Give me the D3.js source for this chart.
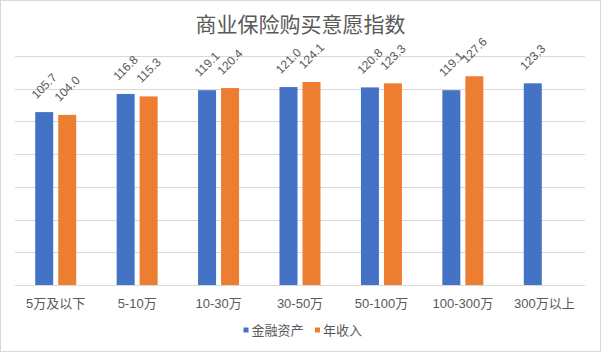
<!DOCTYPE html>
<html><head><meta charset="utf-8">
<script src="https://cdn.jsdelivr.net/npm/d3@7"></script>
<style>html,body{margin:0;padding:0;background:#fff}</style>
</head><body>
<svg id="c" width="601" height="352"></svg>
<script>
const categories = ["5万及以下","5-10万","10-30万","30-50万","50-100万","100-300万","300万以上"];
const seriesNames = ["金融资产","年收入"];
const assets = [105.7,116.8,119.1,121.0,120.8,119.1,123.3];
const income = [104.0,115.3,120.4,124.1,123.3,127.6,null];
const yTicks = [0,20,40,60,80,100,120,140];
const colors = ["#4472C4","#ED7D31"];

const svg = d3.select("#c");
const W = 601, H = 352;
const font = "'Liberation Sans','Noto Sans CJK SC',sans-serif";
svg.append("rect").attr("x",0.5).attr("y",0.5).attr("width",W-1).attr("height",H-1)
  .attr("fill","#fff").attr("stroke","#d9d9d9");

const x = d3.scaleBand().domain(categories).range([15,585]);
const y = d3.scaleLinear().domain([0,140]).range([285,56]);

svg.append("g").selectAll("line").data(yTicks).join("line")
  .attr("x1",15).attr("x2",585).attr("y1",d=>Math.round(y(d))+0.5).attr("y2",d=>Math.round(y(d))+0.5)
  .attr("stroke","#d9d9d9").attr("stroke-width",1);

const series = [assets, income];
const barW = 18, offs = [-20.5, 2.5];
series.forEach((vals,si)=>{
  const data = categories.map((c,i)=>({c,v:vals[i]})).filter(d=>d.v!=null);
  svg.append("g").selectAll("rect").data(data).join("rect")
    .attr("x",d=>x(d.c)+x.bandwidth()/2+offs[si])
    .attr("width",barW)
    .attr("y",d=>y(d.v)).attr("height",d=>y(0)-y(d.v))
    .attr("fill",colors[si]);
  svg.append("g").selectAll("text").data(data).join("text")
    .attr("transform",d=>`translate(${x(d.c)+x.bandwidth()/2+offs[si]+barW/2},${y(d.v)-26}) rotate(-45)`)
    .attr("text-anchor","middle").attr("dominant-baseline","central")
    .attr("font-family",font).attr("font-size",12).attr("fill","#595959")
    .text(d=>d.v.toFixed(1));
});

// x axis labels
const xAxis = d3.axisBottom(x).tickSize(0).tickPadding(0);
const gx = svg.append("g").attr("transform","translate(0,285)").call(xAxis);
gx.select(".domain").remove();
gx.selectAll("text").attr("dy",null).attr("y",22.5)
  .attr("font-family",font).attr("font-size",13).attr("fill","#595959");

// title
svg.append("text").attr("x",300.5).attr("y",31.5).attr("text-anchor","middle")
  .attr("font-family","'Noto Sans CJK SC',sans-serif").attr("font-size",21).attr("fill","#595959")
  .text("商业保险购买意愿指数");

// legend
const lg = svg.append("g");
const legX = [243.5, 315];
seriesNames.forEach((n,i)=>{
  lg.append("rect").attr("x",legX[i]).attr("y",327.5).attr("width",5).attr("height",5).attr("fill",colors[i]);
  lg.append("text").attr("x",legX[i]+8).attr("y",335)
    .attr("font-family","'Noto Sans CJK SC',sans-serif").attr("font-size",13).attr("fill","#595959").text(n);
});
</script>
</body></html>
